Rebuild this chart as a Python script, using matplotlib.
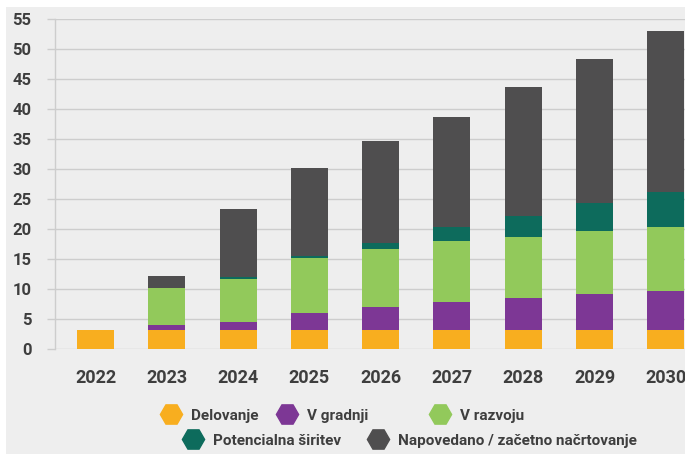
import numpy as np
import matplotlib
matplotlib.use('Agg')
import matplotlib.pyplot as plt
from matplotlib import font_manager
from matplotlib.lines import Line2D
from matplotlib.patches import Rectangle

years = ['2022', '2023', '2024', '2025', '2026', '2027', '2028', '2029', '2030']

# stacked segments (GW), bottom to top
delovanje = [3.25, 3.25, 3.25, 3.25, 3.25, 3.25, 3.25, 3.25, 3.25]
v_gradnji = [0, 0.8, 1.35, 2.75, 3.8, 4.65, 5.25, 5.95, 6.55]
v_razvoju = [0, 6.25, 7.2, 9.2, 9.75, 10.15, 10.3, 10.6, 10.6]
potencialna = [0, 0, 0.25, 0.35, 0.9, 2.35, 3.5, 4.6, 5.9]
napovedano = [0, 2.0, 11.35, 14.65, 17.0, 18.4, 21.4, 24.0, 26.7]

series = [delovanje, v_gradnji, v_razvoju, potencialna, napovedano]
labels = ['Delovanje', 'V gradnji', 'V razvoju', 'Potencialna širitev',
          'Napovedano / začetno načrtovanje']
colors = ['#f8ae1f', '#7d3795', '#92c95b', '#0d6b5c', '#4f4e4f']

bg = '#eeeeee'
grid_col = '#cdcdcd'
txt_col = '#3e3e3e'

# pick fonts that exist
names = {f.name for f in font_manager.fontManager.ttflist}
tick_font = 'Roboto' if 'Roboto' in names else 'DejaVu Sans'
leg_font = 'Liberation Sans Narrow' if 'Liberation Sans Narrow' in names else 'Roboto'

fig = plt.figure(figsize=(6.85, 4.54), dpi=100, facecolor='white')
fig.patches.append(Rectangle((6 / 685, 0), 1, 1 - 7 / 454, transform=fig.transFigure,
                             facecolor=bg, edgecolor='none', zorder=-10))

ax = fig.add_axes([55 / 685, 1 - 349.3 / 454, 1 - 55 / 685, 330 / 454])
ax.set_facecolor(bg)
ax.patch.set_alpha(0)

x = np.arange(len(years))
bottom = np.zeros(len(years))
for vals, col in zip(series, colors):
    ax.bar(x, vals, width=0.52, bottom=bottom, color=col, linewidth=0, zorder=3)
    bottom += np.array(vals)

ax.set_xlim(-0.57, 8.27)
ax.set_ylim(0, 55)
ax.set_yticks(np.arange(0, 56, 5))
ax.set_xticks(x)
ax.set_xticklabels(years)

ax.yaxis.grid(True, color=grid_col, linewidth=1.0)
ax.set_axisbelow(True)
for s in ['top', 'right', 'bottom']:
    ax.spines[s].set_visible(False)
ax.spines['left'].set_color(grid_col)
ax.spines['left'].set_linewidth(1.0)

ax.tick_params(axis='y', length=6, width=1.0, color=grid_col, pad=11,
               labelsize=12, labelcolor=txt_col)
ax.tick_params(axis='x', length=0, pad=14, labelsize=13, labelcolor=txt_col)
for lab in ax.get_yticklabels() + ax.get_xticklabels():
    lab.set_fontfamily(tick_font)
    lab.set_fontweight('bold')

# legend: one small legend per entry, placed like the original
leg_pos = [(170.7, 415.7), (286.7, 415.7), (440.0, 415.7), (193.3, 440.7), (378.3, 440.7)]
fs = 11
for lab, col, (hx, hy) in zip(labels, colors, leg_pos):
    h = Line2D([], [], linestyle='none', marker='H', markersize=16,
               markerfacecolor=col, markeredgecolor=col)
    left = hx - 10.7
    fig.legend(handles=[h], labels=[lab], loc='center left',
               bbox_to_anchor=(left / 685, 1 - hy / 454), frameon=False,
               borderpad=0, borderaxespad=0, handlelength=1.4, handletextpad=0.6,
               prop={'family': leg_font, 'weight': 'bold', 'size': fs},
               labelcolor=txt_col)

fig.savefig('out.png', dpi=100, facecolor='white')
